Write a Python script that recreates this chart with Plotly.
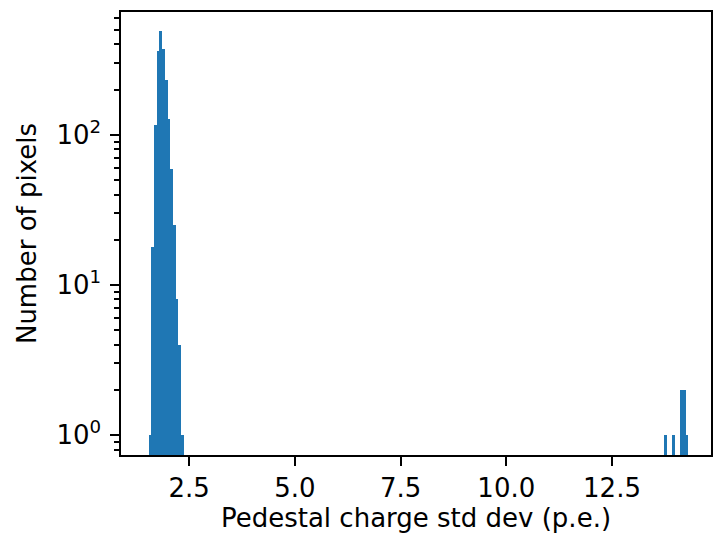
import numpy as np
import plotly.graph_objects as go

# Histogram definition (200 bins)
bin_lo = 1.542
bin_hi = 14.305
n_bins = 200

# counts in the low cluster (bins 0..12)
left_counts = [1, 18, 116, 364, 488, 374, 230, 127, 59, 25, 8, 4, 1]
# counts in the high cluster (bins 191..199)
right_start = 191
right_counts = [1, 0, 0, 1, 0, 0, 2, 2, 1]

x_ticks = [2.5, 5.0, 7.5, 10.0, 12.5]
y_ticks = [1, 10, 100]
y_ticktext = ["10<sup>0</sup>", "10<sup>1</sup>", "10<sup>2</sup>"]
y_minor = [m * 10 ** d for d in range(-1, 3) for m in range(2, 10)]

edges = np.linspace(bin_lo, bin_hi, n_bins + 1)
centers = 0.5 * (edges[:-1] + edges[1:])
width = edges[1] - edges[0]
counts = np.zeros(n_bins)
counts[:len(left_counts)] = left_counts
counts[right_start:right_start + len(right_counts)] = right_counts
mask = counts > 0

fig = go.Figure(go.Bar(
    x=centers[mask], y=counts[mask], width=width,
    marker=dict(color="#1f77b4", line=dict(width=0)),
    hoverinfo="skip",
))

font = dict(family="DejaVu Sans", size=26, color="black")
fig.update_layout(
    width=715, height=536,
    margin=dict(l=120.5, r=1.5, t=11.5, b=81),
    plot_bgcolor="white", paper_bgcolor="white",
    bargap=0, showlegend=False, font=font,
)
fig.update_xaxes(
    range=[0.888, 14.841], tickvals=x_ticks, ticktext=[f"{v:.1f}" for v in x_ticks],
    ticks="outside", ticklen=8.75, tickwidth=2, tickcolor="black",
    showline=True, linewidth=2, linecolor="black", mirror=True,
    showgrid=False, zeroline=False,
    title=dict(text="Pedestal charge std dev (p.e.)", font=font, standoff=5),
)
fig.update_yaxes(
    type="log", range=[-0.133, 2.818], tickvals=y_ticks, ticktext=y_ticktext,
    ticks="outside", ticklen=8.75, tickwidth=2, tickcolor="black",
    ticklabelstandoff=4,
    minor=dict(tickvals=y_minor, ticks="outside", ticklen=5, tickwidth=1.5, tickcolor="black", showgrid=False),
    showline=True, linewidth=2, linecolor="black", mirror=True,
    showgrid=False, zeroline=False,
    title=dict(text="Number of pixels", font=font, standoff=12),
)
fig.write_html(
    "out.html",
    config={"displayModeBar": False},
    post_script="document.body.style.margin='0';document.body.style.padding='0';document.body.style.overflow='hidden';",
)
